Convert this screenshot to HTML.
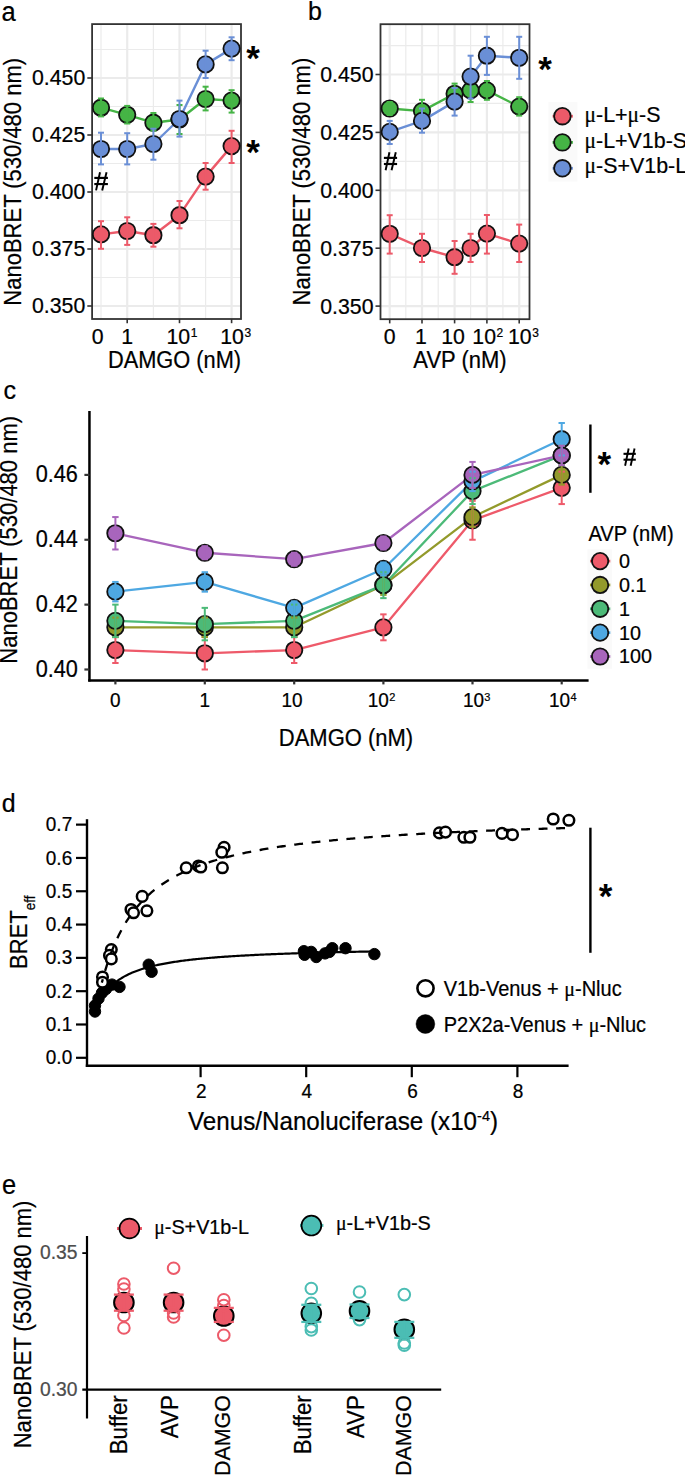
<!DOCTYPE html>
<html><head><meta charset="utf-8"><style>
html,body{margin:0;padding:0;background:#fff;overflow:hidden}
svg{display:block}
text{font-family:"Liberation Sans", sans-serif}
text.s,g.s text{stroke-width:0.4}
</style></head><body>
<svg width="685" height="1475" viewBox="0 0 685 1475">
<rect width="685" height="1475" fill="#fff"/>
<text transform="translate(1.4,21) scale(1,1.06)" font-size="25.5" text-anchor="start" fill="#000" stroke="#000" stroke-width="0.22" >a</text>
<g>
<line x1="92" y1="277.5" x2="241" y2="277.5" stroke="#ebebeb" stroke-width="1.2" />
<line x1="92" y1="220.5" x2="241" y2="220.5" stroke="#ebebeb" stroke-width="1.2" />
<line x1="92" y1="163.5" x2="241" y2="163.5" stroke="#ebebeb" stroke-width="1.2" />
<line x1="92" y1="106.5" x2="241" y2="106.5" stroke="#ebebeb" stroke-width="1.2" />
<line x1="92" y1="49.5" x2="241" y2="49.5" stroke="#ebebeb" stroke-width="1.2" />
<line x1="101" y1="24" x2="101" y2="319" stroke="#ebebeb" stroke-width="1.2" />
<line x1="153.4" y1="24" x2="153.4" y2="319" stroke="#ebebeb" stroke-width="1.2" />
<line x1="205.6" y1="24" x2="205.6" y2="319" stroke="#ebebeb" stroke-width="1.2" />
<line x1="92" y1="306.0" x2="241" y2="306.0" stroke="#ebebeb" stroke-width="2.2" />
<line x1="92" y1="249.0" x2="241" y2="249.0" stroke="#ebebeb" stroke-width="2.2" />
<line x1="92" y1="192.0" x2="241" y2="192.0" stroke="#ebebeb" stroke-width="2.2" />
<line x1="92" y1="135.0" x2="241" y2="135.0" stroke="#ebebeb" stroke-width="2.2" />
<line x1="92" y1="78.0" x2="241" y2="78.0" stroke="#ebebeb" stroke-width="2.2" />
<line x1="127.2" y1="24" x2="127.2" y2="319" stroke="#ebebeb" stroke-width="2.2" />
<line x1="179.5" y1="24" x2="179.5" y2="319" stroke="#ebebeb" stroke-width="2.2" />
<line x1="231.6" y1="24" x2="231.6" y2="319" stroke="#ebebeb" stroke-width="2.2" />
<rect x="92.1" y="24.1" width="148.9" height="294.9" fill="none" stroke="#333" stroke-width="1.8"/>
<line x1="87.3" y1="306.0" x2="92" y2="306.0" stroke="#333" stroke-width="1.6" />
<text transform="translate(85.3,313.4) scale(1,1.06)" font-size="21.3" text-anchor="end" fill="#000" stroke="#000" stroke-width="0.22" >0.350</text>
<line x1="87.3" y1="249.0" x2="92" y2="249.0" stroke="#333" stroke-width="1.6" />
<text transform="translate(85.3,256.4) scale(1,1.06)" font-size="21.3" text-anchor="end" fill="#000" stroke="#000" stroke-width="0.22" >0.375</text>
<line x1="87.3" y1="192.0" x2="92" y2="192.0" stroke="#333" stroke-width="1.6" />
<text transform="translate(85.3,199.4) scale(1,1.06)" font-size="21.3" text-anchor="end" fill="#000" stroke="#000" stroke-width="0.22" >0.400</text>
<line x1="87.3" y1="135.0" x2="92" y2="135.0" stroke="#333" stroke-width="1.6" />
<text transform="translate(85.3,142.4) scale(1,1.06)" font-size="21.3" text-anchor="end" fill="#000" stroke="#000" stroke-width="0.22" >0.425</text>
<line x1="87.3" y1="78.0" x2="92" y2="78.0" stroke="#333" stroke-width="1.6" />
<text transform="translate(85.3,85.4) scale(1,1.06)" font-size="21.3" text-anchor="end" fill="#000" stroke="#000" stroke-width="0.22" >0.450</text>
<line x1="127.2" y1="319" x2="127.2" y2="323.2" stroke="#333" stroke-width="1.6" />
<line x1="179.5" y1="319" x2="179.5" y2="323.2" stroke="#333" stroke-width="1.6" />
<line x1="231.6" y1="319" x2="231.6" y2="323.2" stroke="#333" stroke-width="1.6" />
<text transform="translate(97.6,344.4) scale(1,1.06)" font-size="21.3" text-anchor="middle" fill="#000" stroke="#000" stroke-width="0.22" >0</text>
<text transform="translate(127.2,344.4) scale(1,1.06)" font-size="21.3" text-anchor="middle" fill="#000" stroke="#000" stroke-width="0.22" >1</text>
<text transform="translate(182,344.4) scale(1,1.06)" font-size="21.3" text-anchor="middle" fill="#000" stroke="#000" stroke-width="0.22" >10<tspan font-size="12" dx="0.6" dy="-6.8">1</tspan></text>
<text transform="translate(235.6,344.4) scale(1,1.06)" font-size="21.3" text-anchor="middle" fill="#000" stroke="#000" stroke-width="0.22" >10<tspan font-size="12" dx="0.6" dy="-6.8">3</tspan></text>
<text transform="translate(174.5,368) scale(1,1.06)" font-size="21.8" text-anchor="middle" fill="#000" stroke="#000" stroke-width="0.22" >DAMGO (nM)</text>
<text transform="translate(21.1,181.8) rotate(-90) scale(1,1.06)" font-size="22" text-anchor="middle" stroke="#000" stroke-width="0.22">NanoBRET (530/480 nm)</text>
<polyline points="101,234.4 127.2,231 153.4,235.2 179.5,215.2 205.6,176.6 231.6,146.1" fill="none" stroke="#ec5a69" stroke-width="2.4" stroke-linejoin="round"/>
<polyline points="101,107.7 127.2,114.8 153.4,122.7 179.5,119.5 205.6,99 231.6,100.6" fill="none" stroke="#45b445" stroke-width="2.4" stroke-linejoin="round"/>
<polyline points="101,149 127.2,149 153.4,144 179.5,119 205.6,64.4 231.6,48.6" fill="none" stroke="#6a8fd6" stroke-width="2.4" stroke-linejoin="round"/>
<circle cx="101" cy="234.4" r="8.2" fill="#ec5a69" stroke="#111" stroke-width="1.8"/>
<circle cx="127.2" cy="231" r="8.2" fill="#ec5a69" stroke="#111" stroke-width="1.8"/>
<circle cx="153.4" cy="235.2" r="8.2" fill="#ec5a69" stroke="#111" stroke-width="1.8"/>
<circle cx="179.5" cy="215.2" r="8.2" fill="#ec5a69" stroke="#111" stroke-width="1.8"/>
<circle cx="205.6" cy="176.6" r="8.2" fill="#ec5a69" stroke="#111" stroke-width="1.8"/>
<circle cx="231.6" cy="146.1" r="8.2" fill="#ec5a69" stroke="#111" stroke-width="1.8"/>
<line x1="101" y1="221.2" x2="101" y2="248.8" stroke="#ec5a69" stroke-width="2.0" />
<line x1="98.0" y1="221.2" x2="104.0" y2="221.2" stroke="#ec5a69" stroke-width="2.0" />
<line x1="98.0" y1="248.8" x2="104.0" y2="248.8" stroke="#ec5a69" stroke-width="2.0" />
<line x1="127.2" y1="217.3" x2="127.2" y2="244.9" stroke="#ec5a69" stroke-width="2.0" />
<line x1="124.2" y1="217.3" x2="130.2" y2="217.3" stroke="#ec5a69" stroke-width="2.0" />
<line x1="124.2" y1="244.9" x2="130.2" y2="244.9" stroke="#ec5a69" stroke-width="2.0" />
<line x1="153.4" y1="223.9" x2="153.4" y2="246.7" stroke="#ec5a69" stroke-width="2.0" />
<line x1="150.4" y1="223.9" x2="156.4" y2="223.9" stroke="#ec5a69" stroke-width="2.0" />
<line x1="150.4" y1="246.7" x2="156.4" y2="246.7" stroke="#ec5a69" stroke-width="2.0" />
<line x1="179.5" y1="201" x2="179.5" y2="228.3" stroke="#ec5a69" stroke-width="2.0" />
<line x1="176.5" y1="201" x2="182.5" y2="201" stroke="#ec5a69" stroke-width="2.0" />
<line x1="176.5" y1="228.3" x2="182.5" y2="228.3" stroke="#ec5a69" stroke-width="2.0" />
<line x1="205.6" y1="163" x2="205.6" y2="189.7" stroke="#ec5a69" stroke-width="2.0" />
<line x1="202.6" y1="163" x2="208.6" y2="163" stroke="#ec5a69" stroke-width="2.0" />
<line x1="202.6" y1="189.7" x2="208.6" y2="189.7" stroke="#ec5a69" stroke-width="2.0" />
<line x1="231.6" y1="130.8" x2="231.6" y2="163" stroke="#ec5a69" stroke-width="2.0" />
<line x1="228.6" y1="130.8" x2="234.6" y2="130.8" stroke="#ec5a69" stroke-width="2.0" />
<line x1="228.6" y1="163" x2="234.6" y2="163" stroke="#ec5a69" stroke-width="2.0" />
<circle cx="101" cy="107.7" r="8.2" fill="#45b445" stroke="#111" stroke-width="1.8"/>
<circle cx="127.2" cy="114.8" r="8.2" fill="#45b445" stroke="#111" stroke-width="1.8"/>
<circle cx="153.4" cy="122.7" r="8.2" fill="#45b445" stroke="#111" stroke-width="1.8"/>
<circle cx="179.5" cy="119.5" r="8.2" fill="#45b445" stroke="#111" stroke-width="1.8"/>
<circle cx="205.6" cy="99" r="8.2" fill="#45b445" stroke="#111" stroke-width="1.8"/>
<circle cx="231.6" cy="100.6" r="8.2" fill="#45b445" stroke="#111" stroke-width="1.8"/>
<line x1="101" y1="98.5" x2="101" y2="116.4" stroke="#45b445" stroke-width="2.0" />
<line x1="98.0" y1="98.5" x2="104.0" y2="98.5" stroke="#45b445" stroke-width="2.0" />
<line x1="98.0" y1="116.4" x2="104.0" y2="116.4" stroke="#45b445" stroke-width="2.0" />
<line x1="127.2" y1="105.9" x2="127.2" y2="123.5" stroke="#45b445" stroke-width="2.0" />
<line x1="124.2" y1="105.9" x2="130.2" y2="105.9" stroke="#45b445" stroke-width="2.0" />
<line x1="124.2" y1="123.5" x2="130.2" y2="123.5" stroke="#45b445" stroke-width="2.0" />
<line x1="153.4" y1="113" x2="153.4" y2="130.6" stroke="#45b445" stroke-width="2.0" />
<line x1="150.4" y1="113" x2="156.4" y2="113" stroke="#45b445" stroke-width="2.0" />
<line x1="150.4" y1="130.6" x2="156.4" y2="130.6" stroke="#45b445" stroke-width="2.0" />
<line x1="179.5" y1="105" x2="179.5" y2="134" stroke="#45b445" stroke-width="2.0" />
<line x1="176.5" y1="105" x2="182.5" y2="105" stroke="#45b445" stroke-width="2.0" />
<line x1="176.5" y1="134" x2="182.5" y2="134" stroke="#45b445" stroke-width="2.0" />
<line x1="205.6" y1="86.7" x2="205.6" y2="110.4" stroke="#45b445" stroke-width="2.0" />
<line x1="202.6" y1="86.7" x2="208.6" y2="86.7" stroke="#45b445" stroke-width="2.0" />
<line x1="202.6" y1="110.4" x2="208.6" y2="110.4" stroke="#45b445" stroke-width="2.0" />
<line x1="231.6" y1="90.2" x2="231.6" y2="112.6" stroke="#45b445" stroke-width="2.0" />
<line x1="228.6" y1="90.2" x2="234.6" y2="90.2" stroke="#45b445" stroke-width="2.0" />
<line x1="228.6" y1="112.6" x2="234.6" y2="112.6" stroke="#45b445" stroke-width="2.0" />
<circle cx="101" cy="149" r="8.2" fill="#6a8fd6" stroke="#111" stroke-width="1.8"/>
<circle cx="127.2" cy="149" r="8.2" fill="#6a8fd6" stroke="#111" stroke-width="1.8"/>
<circle cx="153.4" cy="144" r="8.2" fill="#6a8fd6" stroke="#111" stroke-width="1.8"/>
<circle cx="179.5" cy="119" r="8.2" fill="#6a8fd6" stroke="#111" stroke-width="1.8"/>
<circle cx="205.6" cy="64.4" r="8.2" fill="#6a8fd6" stroke="#111" stroke-width="1.8"/>
<circle cx="231.6" cy="48.6" r="8.2" fill="#6a8fd6" stroke="#111" stroke-width="1.8"/>
<line x1="101" y1="132.7" x2="101" y2="164.4" stroke="#6a8fd6" stroke-width="2.0" />
<line x1="98.0" y1="132.7" x2="104.0" y2="132.7" stroke="#6a8fd6" stroke-width="2.0" />
<line x1="98.0" y1="164.4" x2="104.0" y2="164.4" stroke="#6a8fd6" stroke-width="2.0" />
<line x1="127.2" y1="133.2" x2="127.2" y2="164.4" stroke="#6a8fd6" stroke-width="2.0" />
<line x1="124.2" y1="133.2" x2="130.2" y2="133.2" stroke="#6a8fd6" stroke-width="2.0" />
<line x1="124.2" y1="164.4" x2="130.2" y2="164.4" stroke="#6a8fd6" stroke-width="2.0" />
<line x1="153.4" y1="128.7" x2="153.4" y2="159.7" stroke="#6a8fd6" stroke-width="2.0" />
<line x1="150.4" y1="128.7" x2="156.4" y2="128.7" stroke="#6a8fd6" stroke-width="2.0" />
<line x1="150.4" y1="159.7" x2="156.4" y2="159.7" stroke="#6a8fd6" stroke-width="2.0" />
<line x1="179.5" y1="100.6" x2="179.5" y2="136.6" stroke="#6a8fd6" stroke-width="2.0" />
<line x1="176.5" y1="100.6" x2="182.5" y2="100.6" stroke="#6a8fd6" stroke-width="2.0" />
<line x1="176.5" y1="136.6" x2="182.5" y2="136.6" stroke="#6a8fd6" stroke-width="2.0" />
<line x1="205.6" y1="50.7" x2="205.6" y2="78" stroke="#6a8fd6" stroke-width="2.0" />
<line x1="202.6" y1="50.7" x2="208.6" y2="50.7" stroke="#6a8fd6" stroke-width="2.0" />
<line x1="202.6" y1="78" x2="208.6" y2="78" stroke="#6a8fd6" stroke-width="2.0" />
<line x1="231.6" y1="37.3" x2="231.6" y2="60.2" stroke="#6a8fd6" stroke-width="2.0" />
<line x1="228.6" y1="37.3" x2="234.6" y2="37.3" stroke="#6a8fd6" stroke-width="2.0" />
<line x1="228.6" y1="60.2" x2="234.6" y2="60.2" stroke="#6a8fd6" stroke-width="2.0" />
<text x="253.1" y="70.3" font-size="35" font-weight="bold" text-anchor="middle" fill="#000">*</text>
<text x="253.1" y="163.9" font-size="35" font-weight="bold" text-anchor="middle" fill="#000">*</text>
<line x1="100.01" y1="172.3" x2="96.07" y2="190.4" stroke="#000" stroke-width="1.95" />
<line x1="106.54" y1="172.3" x2="102.19" y2="190.4" stroke="#000" stroke-width="1.95" />
<line x1="94.3" y1="177.91" x2="107.9" y2="177.91" stroke="#000" stroke-width="2.15" />
<line x1="94.3" y1="184.06" x2="107.9" y2="184.06" stroke="#000" stroke-width="2.15" />
</g>
<text transform="translate(308.1,20.3) scale(1,1.06)" font-size="25" text-anchor="start" fill="#000" stroke="#000" stroke-width="0.22" >b</text>
<line x1="380.5" y1="277.15" x2="529.5" y2="277.15" stroke="#ebebeb" stroke-width="1.2" />
<line x1="380.5" y1="219.25" x2="529.5" y2="219.25" stroke="#ebebeb" stroke-width="1.2" />
<line x1="380.5" y1="161.35" x2="529.5" y2="161.35" stroke="#ebebeb" stroke-width="1.2" />
<line x1="380.5" y1="103.45" x2="529.5" y2="103.45" stroke="#ebebeb" stroke-width="1.2" />
<line x1="380.5" y1="45.55" x2="529.5" y2="45.55" stroke="#ebebeb" stroke-width="1.2" />
<line x1="405.8" y1="24.2" x2="405.8" y2="319.2" stroke="#ebebeb" stroke-width="1.2" />
<line x1="438.2" y1="24.2" x2="438.2" y2="319.2" stroke="#ebebeb" stroke-width="1.2" />
<line x1="470.6" y1="24.2" x2="470.6" y2="319.2" stroke="#ebebeb" stroke-width="1.2" />
<line x1="502.9" y1="24.2" x2="502.9" y2="319.2" stroke="#ebebeb" stroke-width="1.2" />
<line x1="380.5" y1="306.1" x2="529.5" y2="306.1" stroke="#ebebeb" stroke-width="2.2" />
<line x1="380.5" y1="248.2" x2="529.5" y2="248.2" stroke="#ebebeb" stroke-width="2.2" />
<line x1="380.5" y1="190.3" x2="529.5" y2="190.3" stroke="#ebebeb" stroke-width="2.2" />
<line x1="380.5" y1="132.4" x2="529.5" y2="132.4" stroke="#ebebeb" stroke-width="2.2" />
<line x1="380.5" y1="74.5" x2="529.5" y2="74.5" stroke="#ebebeb" stroke-width="2.2" />
<line x1="389.7" y1="24.2" x2="389.7" y2="319.2" stroke="#ebebeb" stroke-width="2.2" />
<line x1="422" y1="24.2" x2="422" y2="319.2" stroke="#ebebeb" stroke-width="2.2" />
<line x1="454.6" y1="24.2" x2="454.6" y2="319.2" stroke="#ebebeb" stroke-width="2.2" />
<line x1="486.9" y1="24.2" x2="486.9" y2="319.2" stroke="#ebebeb" stroke-width="2.2" />
<line x1="519.2" y1="24.2" x2="519.2" y2="319.2" stroke="#ebebeb" stroke-width="2.2" />
<rect x="380.5" y="24.2" width="149" height="295" fill="none" stroke="#333" stroke-width="1.8"/>
<line x1="375.5" y1="306.1" x2="380.5" y2="306.1" stroke="#333" stroke-width="1.6" />
<text transform="translate(373.5,313.5) scale(1,1.06)" font-size="21.3" text-anchor="end" fill="#000" stroke="#000" stroke-width="0.22" >0.350</text>
<line x1="375.5" y1="248.2" x2="380.5" y2="248.2" stroke="#333" stroke-width="1.6" />
<text transform="translate(373.5,255.6) scale(1,1.06)" font-size="21.3" text-anchor="end" fill="#000" stroke="#000" stroke-width="0.22" >0.375</text>
<line x1="375.5" y1="190.3" x2="380.5" y2="190.3" stroke="#333" stroke-width="1.6" />
<text transform="translate(373.5,197.7) scale(1,1.06)" font-size="21.3" text-anchor="end" fill="#000" stroke="#000" stroke-width="0.22" >0.400</text>
<line x1="375.5" y1="132.4" x2="380.5" y2="132.4" stroke="#333" stroke-width="1.6" />
<text transform="translate(373.5,139.8) scale(1,1.06)" font-size="21.3" text-anchor="end" fill="#000" stroke="#000" stroke-width="0.22" >0.425</text>
<line x1="375.5" y1="74.5" x2="380.5" y2="74.5" stroke="#333" stroke-width="1.6" />
<text transform="translate(373.5,81.9) scale(1,1.06)" font-size="21.3" text-anchor="end" fill="#000" stroke="#000" stroke-width="0.22" >0.450</text>
<line x1="389.7" y1="319.2" x2="389.7" y2="323.4" stroke="#333" stroke-width="1.6" />
<line x1="422" y1="319.2" x2="422" y2="323.4" stroke="#333" stroke-width="1.6" />
<line x1="454.6" y1="319.2" x2="454.6" y2="323.4" stroke="#333" stroke-width="1.6" />
<line x1="486.9" y1="319.2" x2="486.9" y2="323.4" stroke="#333" stroke-width="1.6" />
<line x1="519.2" y1="319.2" x2="519.2" y2="323.4" stroke="#333" stroke-width="1.6" />
<text transform="translate(389.7,344.4) scale(1,1.06)" font-size="21.3" text-anchor="middle" fill="#000" stroke="#000" stroke-width="0.22" >0</text>
<text transform="translate(420.8,344.4) scale(1,1.06)" font-size="21.3" text-anchor="middle" fill="#000" stroke="#000" stroke-width="0.22" >1</text>
<text transform="translate(453,344.4) scale(1,1.06)" font-size="21.3" text-anchor="middle" fill="#000" stroke="#000" stroke-width="0.22" >10</text>
<text transform="translate(487.8,344.4) scale(1,1.06)" font-size="21.3" text-anchor="middle" fill="#000" stroke="#000" stroke-width="0.22" >10<tspan font-size="12" dx="0.6" dy="-6.8">2</tspan></text>
<text transform="translate(523.4,344.4) scale(1,1.06)" font-size="21.3" text-anchor="middle" fill="#000" stroke="#000" stroke-width="0.22" >10<tspan font-size="12" dx="0.6" dy="-6.8">3</tspan></text>
<text transform="translate(460,368) scale(1,1.06)" font-size="22" text-anchor="middle" fill="#000" stroke="#000" stroke-width="0.22" >AVP (nM)</text>
<text transform="translate(309.6,181.6) rotate(-90) scale(1,1.06)" font-size="22" text-anchor="middle" stroke="#000" stroke-width="0.22">NanoBRET (530/480 nm)</text>
<polyline points="389.7,233.8 422,248 454.6,257.2 470.6,248 486.9,233.6 519.2,243.6" fill="none" stroke="#ec5a69" stroke-width="2.4" stroke-linejoin="round"/>
<polyline points="389.7,108.5 422,111.1 454.6,93.8 470.6,90.4 486.9,90.4 519.2,106.6" fill="none" stroke="#45b445" stroke-width="2.4" stroke-linejoin="round"/>
<polyline points="389.7,131.9 422,120.9 454.6,101.6 470.6,76.6 486.9,55.7 519.2,57.8" fill="none" stroke="#6a8fd6" stroke-width="2.4" stroke-linejoin="round"/>
<circle cx="389.7" cy="233.8" r="8.2" fill="#ec5a69" stroke="#111" stroke-width="1.8"/>
<circle cx="422" cy="248" r="8.2" fill="#ec5a69" stroke="#111" stroke-width="1.8"/>
<circle cx="454.6" cy="257.2" r="8.2" fill="#ec5a69" stroke="#111" stroke-width="1.8"/>
<circle cx="470.6" cy="248" r="8.2" fill="#ec5a69" stroke="#111" stroke-width="1.8"/>
<circle cx="486.9" cy="233.6" r="8.2" fill="#ec5a69" stroke="#111" stroke-width="1.8"/>
<circle cx="519.2" cy="243.6" r="8.2" fill="#ec5a69" stroke="#111" stroke-width="1.8"/>
<line x1="389.7" y1="215.2" x2="389.7" y2="253.6" stroke="#ec5a69" stroke-width="2.0" />
<line x1="386.7" y1="215.2" x2="392.7" y2="215.2" stroke="#ec5a69" stroke-width="2.0" />
<line x1="386.7" y1="253.6" x2="392.7" y2="253.6" stroke="#ec5a69" stroke-width="2.0" />
<line x1="422" y1="233.8" x2="422" y2="262" stroke="#ec5a69" stroke-width="2.0" />
<line x1="419.0" y1="233.8" x2="425.0" y2="233.8" stroke="#ec5a69" stroke-width="2.0" />
<line x1="419.0" y1="262" x2="425.0" y2="262" stroke="#ec5a69" stroke-width="2.0" />
<line x1="454.6" y1="241" x2="454.6" y2="273.8" stroke="#ec5a69" stroke-width="2.0" />
<line x1="451.6" y1="241" x2="457.6" y2="241" stroke="#ec5a69" stroke-width="2.0" />
<line x1="451.6" y1="273.8" x2="457.6" y2="273.8" stroke="#ec5a69" stroke-width="2.0" />
<line x1="470.6" y1="233.8" x2="470.6" y2="262" stroke="#ec5a69" stroke-width="2.0" />
<line x1="467.6" y1="233.8" x2="473.6" y2="233.8" stroke="#ec5a69" stroke-width="2.0" />
<line x1="467.6" y1="262" x2="473.6" y2="262" stroke="#ec5a69" stroke-width="2.0" />
<line x1="486.9" y1="215" x2="486.9" y2="253.6" stroke="#ec5a69" stroke-width="2.0" />
<line x1="483.9" y1="215" x2="489.9" y2="215" stroke="#ec5a69" stroke-width="2.0" />
<line x1="483.9" y1="253.6" x2="489.9" y2="253.6" stroke="#ec5a69" stroke-width="2.0" />
<line x1="519.2" y1="224.6" x2="519.2" y2="262" stroke="#ec5a69" stroke-width="2.0" />
<line x1="516.2" y1="224.6" x2="522.2" y2="224.6" stroke="#ec5a69" stroke-width="2.0" />
<line x1="516.2" y1="262" x2="522.2" y2="262" stroke="#ec5a69" stroke-width="2.0" />
<circle cx="389.7" cy="108.5" r="8.2" fill="#45b445" stroke="#111" stroke-width="1.8"/>
<circle cx="422" cy="111.1" r="8.2" fill="#45b445" stroke="#111" stroke-width="1.8"/>
<circle cx="454.6" cy="93.8" r="8.2" fill="#45b445" stroke="#111" stroke-width="1.8"/>
<circle cx="470.6" cy="90.4" r="8.2" fill="#45b445" stroke="#111" stroke-width="1.8"/>
<circle cx="486.9" cy="90.4" r="8.2" fill="#45b445" stroke="#111" stroke-width="1.8"/>
<circle cx="519.2" cy="106.6" r="8.2" fill="#45b445" stroke="#111" stroke-width="1.8"/>
<line x1="389.7" y1="102" x2="389.7" y2="115" stroke="#45b445" stroke-width="2.0" />
<line x1="386.7" y1="102" x2="392.7" y2="102" stroke="#45b445" stroke-width="2.0" />
<line x1="386.7" y1="115" x2="392.7" y2="115" stroke="#45b445" stroke-width="2.0" />
<line x1="422" y1="99.8" x2="422" y2="122" stroke="#45b445" stroke-width="2.0" />
<line x1="419.0" y1="99.8" x2="425.0" y2="99.8" stroke="#45b445" stroke-width="2.0" />
<line x1="419.0" y1="122" x2="425.0" y2="122" stroke="#45b445" stroke-width="2.0" />
<line x1="454.6" y1="83.6" x2="454.6" y2="104" stroke="#45b445" stroke-width="2.0" />
<line x1="451.6" y1="83.6" x2="457.6" y2="83.6" stroke="#45b445" stroke-width="2.0" />
<line x1="451.6" y1="104" x2="457.6" y2="104" stroke="#45b445" stroke-width="2.0" />
<line x1="470.6" y1="80" x2="470.6" y2="102" stroke="#45b445" stroke-width="2.0" />
<line x1="467.6" y1="80" x2="473.6" y2="80" stroke="#45b445" stroke-width="2.0" />
<line x1="467.6" y1="102" x2="473.6" y2="102" stroke="#45b445" stroke-width="2.0" />
<line x1="486.9" y1="81" x2="486.9" y2="99.8" stroke="#45b445" stroke-width="2.0" />
<line x1="483.9" y1="81" x2="489.9" y2="81" stroke="#45b445" stroke-width="2.0" />
<line x1="483.9" y1="99.8" x2="489.9" y2="99.8" stroke="#45b445" stroke-width="2.0" />
<line x1="519.2" y1="97.2" x2="519.2" y2="115.6" stroke="#45b445" stroke-width="2.0" />
<line x1="516.2" y1="97.2" x2="522.2" y2="97.2" stroke="#45b445" stroke-width="2.0" />
<line x1="516.2" y1="115.6" x2="522.2" y2="115.6" stroke="#45b445" stroke-width="2.0" />
<circle cx="389.7" cy="131.9" r="8.2" fill="#6a8fd6" stroke="#111" stroke-width="1.8"/>
<circle cx="422" cy="120.9" r="8.2" fill="#6a8fd6" stroke="#111" stroke-width="1.8"/>
<circle cx="454.6" cy="101.6" r="8.2" fill="#6a8fd6" stroke="#111" stroke-width="1.8"/>
<circle cx="470.6" cy="76.6" r="8.2" fill="#6a8fd6" stroke="#111" stroke-width="1.8"/>
<circle cx="486.9" cy="55.7" r="8.2" fill="#6a8fd6" stroke="#111" stroke-width="1.8"/>
<circle cx="519.2" cy="57.8" r="8.2" fill="#6a8fd6" stroke="#111" stroke-width="1.8"/>
<line x1="389.7" y1="120.9" x2="389.7" y2="144" stroke="#6a8fd6" stroke-width="2.0" />
<line x1="386.7" y1="120.9" x2="392.7" y2="120.9" stroke="#6a8fd6" stroke-width="2.0" />
<line x1="386.7" y1="144" x2="392.7" y2="144" stroke="#6a8fd6" stroke-width="2.0" />
<line x1="422" y1="108.5" x2="422" y2="132.7" stroke="#6a8fd6" stroke-width="2.0" />
<line x1="419.0" y1="108.5" x2="425.0" y2="108.5" stroke="#6a8fd6" stroke-width="2.0" />
<line x1="419.0" y1="132.7" x2="425.0" y2="132.7" stroke="#6a8fd6" stroke-width="2.0" />
<line x1="454.6" y1="88" x2="454.6" y2="115.6" stroke="#6a8fd6" stroke-width="2.0" />
<line x1="451.6" y1="88" x2="457.6" y2="88" stroke="#6a8fd6" stroke-width="2.0" />
<line x1="451.6" y1="115.6" x2="457.6" y2="115.6" stroke="#6a8fd6" stroke-width="2.0" />
<line x1="470.6" y1="55.7" x2="470.6" y2="98.5" stroke="#6a8fd6" stroke-width="2.0" />
<line x1="467.6" y1="55.7" x2="473.6" y2="55.7" stroke="#6a8fd6" stroke-width="2.0" />
<line x1="467.6" y1="98.5" x2="473.6" y2="98.5" stroke="#6a8fd6" stroke-width="2.0" />
<line x1="486.9" y1="36.8" x2="486.9" y2="74.9" stroke="#6a8fd6" stroke-width="2.0" />
<line x1="483.9" y1="36.8" x2="489.9" y2="36.8" stroke="#6a8fd6" stroke-width="2.0" />
<line x1="483.9" y1="74.9" x2="489.9" y2="74.9" stroke="#6a8fd6" stroke-width="2.0" />
<line x1="519.2" y1="36.8" x2="519.2" y2="78.8" stroke="#6a8fd6" stroke-width="2.0" />
<line x1="516.2" y1="36.8" x2="522.2" y2="36.8" stroke="#6a8fd6" stroke-width="2.0" />
<line x1="516.2" y1="78.8" x2="522.2" y2="78.8" stroke="#6a8fd6" stroke-width="2.0" />
<text x="545" y="80.69999999999999" font-size="35" font-weight="bold" text-anchor="middle" fill="#000">*</text>
<line x1="389.44" y1="152.3" x2="385.62" y2="170.3" stroke="#000" stroke-width="1.95" />
<line x1="395.78" y1="152.3" x2="391.56" y2="170.3" stroke="#000" stroke-width="1.95" />
<line x1="383.9" y1="157.88" x2="397.1" y2="157.88" stroke="#000" stroke-width="2.15" />
<line x1="383.9" y1="164.0" x2="397.1" y2="164.0" stroke="#000" stroke-width="2.15" />
<rect x="548.4" y="102" width="29" height="79.6" fill="#fafafa"/>
<line x1="552.6" y1="116.2" x2="572.9" y2="116.2" stroke="#ec5a69" stroke-width="2.8" />
<circle cx="562.4" cy="116.2" r="8.3" fill="#ec5a69" stroke="#111" stroke-width="1.8"/>

<line x1="552.6" y1="142.4" x2="572.9" y2="142.4" stroke="#45b445" stroke-width="2.8" />
<circle cx="562.4" cy="142.4" r="8.3" fill="#45b445" stroke="#111" stroke-width="1.8"/>

<line x1="552.6" y1="168.3" x2="572.9" y2="168.3" stroke="#6a8fd6" stroke-width="2.8" />
<circle cx="562.4" cy="168.3" r="8.3" fill="#6a8fd6" stroke="#111" stroke-width="1.8"/>

<text transform="translate(584.6,121.6) scale(1,1.06)" font-size="21.4" text-anchor="start" fill="#000" stroke="#000" stroke-width="0.22" ><tspan font-family="Liberation Serif">μ</tspan>-L+<tspan font-family="Liberation Serif">μ</tspan>-S</text>
<text transform="translate(584.6,147.7) scale(1,1.06)" font-size="21.4" text-anchor="start" fill="#000" stroke="#000" stroke-width="0.22" ><tspan font-family="Liberation Serif">μ</tspan>-L+V1b-S</text>
<text transform="translate(584.6,173.4) scale(1,1.06)" font-size="21.4" text-anchor="start" fill="#000" stroke="#000" stroke-width="0.22" ><tspan font-family="Liberation Serif">μ</tspan>-S+V1b-L</text>
<text transform="translate(3.5,399.2) scale(1,1.06)" font-size="25" text-anchor="start" fill="#000" stroke="#000" stroke-width="0.22" >c</text>
<line x1="89.45" y1="410.9" x2="89.45" y2="681.6" stroke="#000" stroke-width="2.5" />
<line x1="88.2" y1="680.4" x2="588.6" y2="680.4" stroke="#000" stroke-width="2.5" />
<line x1="84.4" y1="669.5" x2="89.45" y2="669.5" stroke="#333" stroke-width="2.2" />
<text transform="translate(77.9,676.5) scale(1,1.06)" font-size="21.7" text-anchor="end" fill="#000" stroke="#000" stroke-width="0.22" >0.40</text>
<line x1="84.4" y1="604.63" x2="89.45" y2="604.63" stroke="#333" stroke-width="2.2" />
<text transform="translate(77.9,611.63) scale(1,1.06)" font-size="21.7" text-anchor="end" fill="#000" stroke="#000" stroke-width="0.22" >0.42</text>
<line x1="84.4" y1="539.76" x2="89.45" y2="539.76" stroke="#333" stroke-width="2.2" />
<text transform="translate(77.9,546.76) scale(1,1.06)" font-size="21.7" text-anchor="end" fill="#000" stroke="#000" stroke-width="0.22" >0.44</text>
<line x1="84.4" y1="474.89" x2="89.45" y2="474.89" stroke="#333" stroke-width="2.2" />
<text transform="translate(77.9,481.89) scale(1,1.06)" font-size="21.7" text-anchor="end" fill="#000" stroke="#000" stroke-width="0.22" >0.46</text>
<line x1="115.4" y1="680.4" x2="115.4" y2="684.4" stroke="#333" stroke-width="2.2" />
<line x1="204.8" y1="680.4" x2="204.8" y2="684.4" stroke="#333" stroke-width="2.2" />
<line x1="294.2" y1="680.4" x2="294.2" y2="684.4" stroke="#333" stroke-width="2.2" />
<line x1="383.4" y1="680.4" x2="383.4" y2="684.4" stroke="#333" stroke-width="2.2" />
<line x1="472.5" y1="680.4" x2="472.5" y2="684.4" stroke="#333" stroke-width="2.2" />
<line x1="561.7" y1="680.4" x2="561.7" y2="684.4" stroke="#333" stroke-width="2.2" />
<text transform="translate(115.4,707) scale(1,1.06)" font-size="19" text-anchor="middle" fill="#000" stroke="#000" stroke-width="0.22" >0</text>
<text transform="translate(204.8,707) scale(1,1.06)" font-size="19" text-anchor="middle" fill="#000" stroke="#000" stroke-width="0.22" >1</text>
<text transform="translate(292,707) scale(1,1.06)" font-size="19" text-anchor="middle" fill="#000" stroke="#000" stroke-width="0.22" >10</text>
<text transform="translate(381.5,707) scale(1,1.06)" font-size="19" text-anchor="middle" fill="#000" stroke="#000" stroke-width="0.22" >10<tspan font-size="11" dx="0.3" dy="-6">2</tspan></text>
<text transform="translate(476.7,707) scale(1,1.06)" font-size="19" text-anchor="middle" fill="#000" stroke="#000" stroke-width="0.22" >10<tspan font-size="11" dx="0.3" dy="-6">3</tspan></text>
<text transform="translate(562.8,707) scale(1,1.06)" font-size="19" text-anchor="middle" fill="#000" stroke="#000" stroke-width="0.22" >10<tspan font-size="11" dx="0.3" dy="-6">4</tspan></text>
<text transform="translate(346,746) scale(1,1.06)" font-size="22" text-anchor="middle" fill="#000" stroke="#000" stroke-width="0.22" >DAMGO (nM)</text>
<text transform="translate(16.6,539.8) rotate(-90) scale(1,1.06)" font-size="22" text-anchor="middle" stroke="#000" stroke-width="0.22">NanoBRET (530/480 nm)</text>
<polyline points="115.4,650.04 204.8,653.28 294.2,650.04 383.4,627.33 472.5,520.3 561.7,487.86" fill="none" stroke="#ee5a6a" stroke-width="2.3" stroke-linejoin="round"/>
<polyline points="115.4,627.33 204.8,627.33 294.2,627.33 383.4,585.17 472.5,517.06 561.7,474.89" fill="none" stroke="#939a2b" stroke-width="2.3" stroke-linejoin="round"/>
<polyline points="115.4,620.85 204.8,624.09 294.2,620.85 383.4,585.17 472.5,491.11 561.7,455.43" fill="none" stroke="#4cba78" stroke-width="2.3" stroke-linejoin="round"/>
<polyline points="115.4,591.66 204.8,581.93 294.2,607.87 383.4,568.95 472.5,481.38 561.7,439.21" fill="none" stroke="#4ea8e2" stroke-width="2.3" stroke-linejoin="round"/>
<polyline points="115.4,533.27 204.8,552.73 294.2,559.22 383.4,543.0 472.5,474.89 561.7,455.43" fill="none" stroke="#a865bc" stroke-width="2.3" stroke-linejoin="round"/>
<circle cx="115.4" cy="650.04" r="8.2" fill="#ee5a6a" stroke="#111" stroke-width="1.8"/>
<circle cx="204.8" cy="653.28" r="8.2" fill="#ee5a6a" stroke="#111" stroke-width="1.8"/>
<circle cx="294.2" cy="650.04" r="8.2" fill="#ee5a6a" stroke="#111" stroke-width="1.8"/>
<circle cx="383.4" cy="627.33" r="8.2" fill="#ee5a6a" stroke="#111" stroke-width="1.8"/>
<circle cx="472.5" cy="520.3" r="8.2" fill="#ee5a6a" stroke="#111" stroke-width="1.8"/>
<circle cx="561.7" cy="487.86" r="8.2" fill="#ee5a6a" stroke="#111" stroke-width="1.8"/>
<circle cx="115.4" cy="627.33" r="8.2" fill="#939a2b" stroke="#111" stroke-width="1.8"/>
<circle cx="204.8" cy="627.33" r="8.2" fill="#939a2b" stroke="#111" stroke-width="1.8"/>
<circle cx="294.2" cy="627.33" r="8.2" fill="#939a2b" stroke="#111" stroke-width="1.8"/>
<circle cx="383.4" cy="585.17" r="8.2" fill="#939a2b" stroke="#111" stroke-width="1.8"/>
<circle cx="472.5" cy="517.06" r="8.2" fill="#939a2b" stroke="#111" stroke-width="1.8"/>
<circle cx="561.7" cy="474.89" r="8.2" fill="#939a2b" stroke="#111" stroke-width="1.8"/>
<circle cx="115.4" cy="620.85" r="8.2" fill="#4cba78" stroke="#111" stroke-width="1.8"/>
<circle cx="204.8" cy="624.09" r="8.2" fill="#4cba78" stroke="#111" stroke-width="1.8"/>
<circle cx="294.2" cy="620.85" r="8.2" fill="#4cba78" stroke="#111" stroke-width="1.8"/>
<circle cx="383.4" cy="585.17" r="8.2" fill="#4cba78" stroke="#111" stroke-width="1.8"/>
<circle cx="472.5" cy="491.11" r="8.2" fill="#4cba78" stroke="#111" stroke-width="1.8"/>
<circle cx="561.7" cy="455.43" r="8.2" fill="#4cba78" stroke="#111" stroke-width="1.8"/>
<circle cx="115.4" cy="591.66" r="8.2" fill="#4ea8e2" stroke="#111" stroke-width="1.8"/>
<circle cx="204.8" cy="581.93" r="8.2" fill="#4ea8e2" stroke="#111" stroke-width="1.8"/>
<circle cx="294.2" cy="607.87" r="8.2" fill="#4ea8e2" stroke="#111" stroke-width="1.8"/>
<circle cx="383.4" cy="568.95" r="8.2" fill="#4ea8e2" stroke="#111" stroke-width="1.8"/>
<circle cx="472.5" cy="481.38" r="8.2" fill="#4ea8e2" stroke="#111" stroke-width="1.8"/>
<circle cx="561.7" cy="439.21" r="8.2" fill="#4ea8e2" stroke="#111" stroke-width="1.8"/>
<circle cx="115.4" cy="533.27" r="8.2" fill="#a865bc" stroke="#111" stroke-width="1.8"/>
<circle cx="204.8" cy="552.73" r="8.2" fill="#a865bc" stroke="#111" stroke-width="1.8"/>
<circle cx="294.2" cy="559.22" r="8.2" fill="#a865bc" stroke="#111" stroke-width="1.8"/>
<circle cx="383.4" cy="543.0" r="8.2" fill="#a865bc" stroke="#111" stroke-width="1.8"/>
<circle cx="472.5" cy="474.89" r="8.2" fill="#a865bc" stroke="#111" stroke-width="1.8"/>
<circle cx="561.7" cy="455.43" r="8.2" fill="#a865bc" stroke="#111" stroke-width="1.8"/>
<line x1="115.4" y1="637.06" x2="115.4" y2="663.01" stroke="#ee5a6a" stroke-width="2.0" />
<line x1="112.2" y1="637.06" x2="118.6" y2="637.06" stroke="#ee5a6a" stroke-width="2.0" />
<line x1="112.2" y1="663.01" x2="118.6" y2="663.01" stroke="#ee5a6a" stroke-width="2.0" />
<line x1="204.8" y1="637.06" x2="204.8" y2="669.5" stroke="#ee5a6a" stroke-width="2.0" />
<line x1="201.6" y1="637.06" x2="208.0" y2="637.06" stroke="#ee5a6a" stroke-width="2.0" />
<line x1="201.6" y1="669.5" x2="208.0" y2="669.5" stroke="#ee5a6a" stroke-width="2.0" />
<line x1="294.2" y1="637.06" x2="294.2" y2="663.01" stroke="#ee5a6a" stroke-width="2.0" />
<line x1="291.0" y1="637.06" x2="297.4" y2="637.06" stroke="#ee5a6a" stroke-width="2.0" />
<line x1="291.0" y1="663.01" x2="297.4" y2="663.01" stroke="#ee5a6a" stroke-width="2.0" />
<line x1="383.4" y1="614.36" x2="383.4" y2="640.31" stroke="#ee5a6a" stroke-width="2.0" />
<line x1="380.2" y1="614.36" x2="386.6" y2="614.36" stroke="#ee5a6a" stroke-width="2.0" />
<line x1="380.2" y1="640.31" x2="386.6" y2="640.31" stroke="#ee5a6a" stroke-width="2.0" />
<line x1="472.5" y1="500.84" x2="472.5" y2="539.76" stroke="#ee5a6a" stroke-width="2.0" />
<line x1="469.3" y1="500.84" x2="475.7" y2="500.84" stroke="#ee5a6a" stroke-width="2.0" />
<line x1="469.3" y1="539.76" x2="475.7" y2="539.76" stroke="#ee5a6a" stroke-width="2.0" />
<line x1="561.7" y1="471.65" x2="561.7" y2="504.08" stroke="#ee5a6a" stroke-width="2.0" />
<line x1="558.5" y1="471.65" x2="564.9" y2="471.65" stroke="#ee5a6a" stroke-width="2.0" />
<line x1="558.5" y1="504.08" x2="564.9" y2="504.08" stroke="#ee5a6a" stroke-width="2.0" />
<line x1="115.4" y1="617.6" x2="115.4" y2="637.07" stroke="#939a2b" stroke-width="2.0" />
<line x1="112.2" y1="617.6" x2="118.6" y2="617.6" stroke="#939a2b" stroke-width="2.0" />
<line x1="112.2" y1="637.07" x2="118.6" y2="637.07" stroke="#939a2b" stroke-width="2.0" />
<line x1="204.8" y1="617.6" x2="204.8" y2="637.07" stroke="#939a2b" stroke-width="2.0" />
<line x1="201.6" y1="617.6" x2="208.0" y2="617.6" stroke="#939a2b" stroke-width="2.0" />
<line x1="201.6" y1="637.07" x2="208.0" y2="637.07" stroke="#939a2b" stroke-width="2.0" />
<line x1="294.2" y1="617.6" x2="294.2" y2="637.07" stroke="#939a2b" stroke-width="2.0" />
<line x1="291.0" y1="617.6" x2="297.4" y2="617.6" stroke="#939a2b" stroke-width="2.0" />
<line x1="291.0" y1="637.07" x2="297.4" y2="637.07" stroke="#939a2b" stroke-width="2.0" />
<line x1="383.4" y1="575.44" x2="383.4" y2="594.9" stroke="#939a2b" stroke-width="2.0" />
<line x1="380.2" y1="575.44" x2="386.6" y2="575.44" stroke="#939a2b" stroke-width="2.0" />
<line x1="380.2" y1="594.9" x2="386.6" y2="594.9" stroke="#939a2b" stroke-width="2.0" />
<line x1="472.5" y1="507.33" x2="472.5" y2="526.79" stroke="#939a2b" stroke-width="2.0" />
<line x1="469.3" y1="507.33" x2="475.7" y2="507.33" stroke="#939a2b" stroke-width="2.0" />
<line x1="469.3" y1="526.79" x2="475.7" y2="526.79" stroke="#939a2b" stroke-width="2.0" />
<line x1="561.7" y1="465.16" x2="561.7" y2="484.62" stroke="#939a2b" stroke-width="2.0" />
<line x1="558.5" y1="465.16" x2="564.9" y2="465.16" stroke="#939a2b" stroke-width="2.0" />
<line x1="558.5" y1="484.62" x2="564.9" y2="484.62" stroke="#939a2b" stroke-width="2.0" />
<line x1="115.4" y1="604.63" x2="115.4" y2="637.07" stroke="#4cba78" stroke-width="2.0" />
<line x1="112.2" y1="604.63" x2="118.6" y2="604.63" stroke="#4cba78" stroke-width="2.0" />
<line x1="112.2" y1="637.07" x2="118.6" y2="637.07" stroke="#4cba78" stroke-width="2.0" />
<line x1="204.8" y1="607.87" x2="204.8" y2="640.31" stroke="#4cba78" stroke-width="2.0" />
<line x1="201.6" y1="607.87" x2="208.0" y2="607.87" stroke="#4cba78" stroke-width="2.0" />
<line x1="201.6" y1="640.31" x2="208.0" y2="640.31" stroke="#4cba78" stroke-width="2.0" />
<line x1="294.2" y1="604.63" x2="294.2" y2="637.07" stroke="#4cba78" stroke-width="2.0" />
<line x1="291.0" y1="604.63" x2="297.4" y2="604.63" stroke="#4cba78" stroke-width="2.0" />
<line x1="291.0" y1="637.07" x2="297.4" y2="637.07" stroke="#4cba78" stroke-width="2.0" />
<line x1="383.4" y1="572.2" x2="383.4" y2="598.14" stroke="#4cba78" stroke-width="2.0" />
<line x1="380.2" y1="572.2" x2="386.6" y2="572.2" stroke="#4cba78" stroke-width="2.0" />
<line x1="380.2" y1="598.14" x2="386.6" y2="598.14" stroke="#4cba78" stroke-width="2.0" />
<line x1="472.5" y1="478.13" x2="472.5" y2="504.08" stroke="#4cba78" stroke-width="2.0" />
<line x1="469.3" y1="478.13" x2="475.7" y2="478.13" stroke="#4cba78" stroke-width="2.0" />
<line x1="469.3" y1="504.08" x2="475.7" y2="504.08" stroke="#4cba78" stroke-width="2.0" />
<line x1="561.7" y1="445.7" x2="561.7" y2="465.16" stroke="#4cba78" stroke-width="2.0" />
<line x1="558.5" y1="445.7" x2="564.9" y2="445.7" stroke="#4cba78" stroke-width="2.0" />
<line x1="558.5" y1="465.16" x2="564.9" y2="465.16" stroke="#4cba78" stroke-width="2.0" />
<line x1="115.4" y1="581.93" x2="115.4" y2="601.39" stroke="#4ea8e2" stroke-width="2.0" />
<line x1="112.2" y1="581.93" x2="118.6" y2="581.93" stroke="#4ea8e2" stroke-width="2.0" />
<line x1="112.2" y1="601.39" x2="118.6" y2="601.39" stroke="#4ea8e2" stroke-width="2.0" />
<line x1="204.8" y1="572.2" x2="204.8" y2="591.66" stroke="#4ea8e2" stroke-width="2.0" />
<line x1="201.6" y1="572.2" x2="208.0" y2="572.2" stroke="#4ea8e2" stroke-width="2.0" />
<line x1="201.6" y1="591.66" x2="208.0" y2="591.66" stroke="#4ea8e2" stroke-width="2.0" />
<line x1="294.2" y1="601.39" x2="294.2" y2="614.36" stroke="#4ea8e2" stroke-width="2.0" />
<line x1="291.0" y1="601.39" x2="297.4" y2="601.39" stroke="#4ea8e2" stroke-width="2.0" />
<line x1="291.0" y1="614.36" x2="297.4" y2="614.36" stroke="#4ea8e2" stroke-width="2.0" />
<line x1="383.4" y1="562.46" x2="383.4" y2="575.44" stroke="#4ea8e2" stroke-width="2.0" />
<line x1="380.2" y1="562.46" x2="386.6" y2="562.46" stroke="#4ea8e2" stroke-width="2.0" />
<line x1="380.2" y1="575.44" x2="386.6" y2="575.44" stroke="#4ea8e2" stroke-width="2.0" />
<line x1="472.5" y1="471.65" x2="472.5" y2="491.11" stroke="#4ea8e2" stroke-width="2.0" />
<line x1="469.3" y1="471.65" x2="475.7" y2="471.65" stroke="#4ea8e2" stroke-width="2.0" />
<line x1="469.3" y1="491.11" x2="475.7" y2="491.11" stroke="#4ea8e2" stroke-width="2.0" />
<line x1="561.7" y1="422.99" x2="561.7" y2="455.43" stroke="#4ea8e2" stroke-width="2.0" />
<line x1="558.5" y1="422.99" x2="564.9" y2="422.99" stroke="#4ea8e2" stroke-width="2.0" />
<line x1="558.5" y1="455.43" x2="564.9" y2="455.43" stroke="#4ea8e2" stroke-width="2.0" />
<line x1="115.4" y1="517.06" x2="115.4" y2="549.49" stroke="#a865bc" stroke-width="2.0" />
<line x1="112.2" y1="517.06" x2="118.6" y2="517.06" stroke="#a865bc" stroke-width="2.0" />
<line x1="112.2" y1="549.49" x2="118.6" y2="549.49" stroke="#a865bc" stroke-width="2.0" />
<line x1="204.8" y1="546.25" x2="204.8" y2="559.22" stroke="#a865bc" stroke-width="2.0" />
<line x1="201.6" y1="546.25" x2="208.0" y2="546.25" stroke="#a865bc" stroke-width="2.0" />
<line x1="201.6" y1="559.22" x2="208.0" y2="559.22" stroke="#a865bc" stroke-width="2.0" />
<line x1="294.2" y1="552.73" x2="294.2" y2="565.71" stroke="#a865bc" stroke-width="2.0" />
<line x1="291.0" y1="552.73" x2="297.4" y2="552.73" stroke="#a865bc" stroke-width="2.0" />
<line x1="291.0" y1="565.71" x2="297.4" y2="565.71" stroke="#a865bc" stroke-width="2.0" />
<line x1="383.4" y1="536.52" x2="383.4" y2="549.49" stroke="#a865bc" stroke-width="2.0" />
<line x1="380.2" y1="536.52" x2="386.6" y2="536.52" stroke="#a865bc" stroke-width="2.0" />
<line x1="380.2" y1="549.49" x2="386.6" y2="549.49" stroke="#a865bc" stroke-width="2.0" />
<line x1="472.5" y1="461.92" x2="472.5" y2="487.86" stroke="#a865bc" stroke-width="2.0" />
<line x1="469.3" y1="461.92" x2="475.7" y2="461.92" stroke="#a865bc" stroke-width="2.0" />
<line x1="469.3" y1="487.86" x2="475.7" y2="487.86" stroke="#a865bc" stroke-width="2.0" />
<line x1="561.7" y1="445.7" x2="561.7" y2="465.16" stroke="#a865bc" stroke-width="2.0" />
<line x1="558.5" y1="445.7" x2="564.9" y2="445.7" stroke="#a865bc" stroke-width="2.0" />
<line x1="558.5" y1="465.16" x2="564.9" y2="465.16" stroke="#a865bc" stroke-width="2.0" />
<line x1="590.4" y1="424.5" x2="590.4" y2="492.8" stroke="#000" stroke-width="2.4" />
<text x="604.4" y="475.59999999999997" font-size="35" font-weight="bold" text-anchor="middle" fill="#000">*</text>
<line x1="628.67" y1="448.5" x2="625.1" y2="465.7" stroke="#000" stroke-width="1.9" />
<line x1="634.57" y1="448.5" x2="630.63" y2="465.7" stroke="#000" stroke-width="1.9" />
<line x1="623.5" y1="453.83" x2="635.8" y2="453.83" stroke="#000" stroke-width="2.1" />
<line x1="623.5" y1="459.68" x2="635.8" y2="459.68" stroke="#000" stroke-width="2.1" />
<text transform="translate(588.4,541) scale(1,1.06)" font-size="20.1" text-anchor="start" fill="#000" stroke="#000" stroke-width="0.22" >AVP (nM)</text>
<rect x="587.4" y="549.2" width="24.6" height="119.6" fill="#fafafa"/>
<line x1="590" y1="561.1" x2="610.3" y2="561.1" stroke="#ee5a6a" stroke-width="2.8" />
<circle cx="600.1" cy="561.1" r="8.2" fill="#ee5a6a" stroke="#111" stroke-width="1.8"/>
<text transform="translate(619,568.0) scale(1,1.06)" font-size="19.8" text-anchor="start" fill="#000" stroke="#000" stroke-width="0.22" >0</text>
<line x1="590" y1="584.95" x2="610.3" y2="584.95" stroke="#939a2b" stroke-width="2.8" />
<circle cx="600.1" cy="584.95" r="8.2" fill="#939a2b" stroke="#111" stroke-width="1.8"/>
<text transform="translate(619,591.85) scale(1,1.06)" font-size="19.8" text-anchor="start" fill="#000" stroke="#000" stroke-width="0.22" >0.1</text>
<line x1="590" y1="608.8" x2="610.3" y2="608.8" stroke="#4cba78" stroke-width="2.8" />
<circle cx="600.1" cy="608.8" r="8.2" fill="#4cba78" stroke="#111" stroke-width="1.8"/>
<text transform="translate(619,615.7) scale(1,1.06)" font-size="19.8" text-anchor="start" fill="#000" stroke="#000" stroke-width="0.22" >1</text>
<line x1="590" y1="632.65" x2="610.3" y2="632.65" stroke="#4ea8e2" stroke-width="2.8" />
<circle cx="600.1" cy="632.65" r="8.2" fill="#4ea8e2" stroke="#111" stroke-width="1.8"/>
<text transform="translate(619,639.55) scale(1,1.06)" font-size="19.8" text-anchor="start" fill="#000" stroke="#000" stroke-width="0.22" >10</text>
<line x1="590" y1="656.5" x2="610.3" y2="656.5" stroke="#a865bc" stroke-width="2.8" />
<circle cx="600.1" cy="656.5" r="8.2" fill="#a865bc" stroke="#111" stroke-width="1.8"/>
<text transform="translate(619,663.4) scale(1,1.06)" font-size="19.8" text-anchor="start" fill="#000" stroke="#000" stroke-width="0.22" >100</text>
<text transform="translate(1.8,811.5) scale(1,1.06)" font-size="25" text-anchor="start" fill="#000" stroke="#000" stroke-width="0.22" >d</text>
<line x1="87" y1="819.2" x2="87" y2="1067" stroke="#000" stroke-width="2.4" />
<line x1="85.8" y1="1065.8" x2="568.6" y2="1065.8" stroke="#000" stroke-width="2.4" />
<line x1="76" y1="1057.8" x2="87" y2="1057.8" stroke="#000" stroke-width="2.2" />
<text transform="translate(72.2,1064.4) scale(1,1.06)" font-size="19" text-anchor="end" fill="#000" stroke="#000" stroke-width="0.22" >0.0</text>
<line x1="76" y1="1024.49" x2="87" y2="1024.49" stroke="#000" stroke-width="2.2" />
<text transform="translate(72.2,1031.09) scale(1,1.06)" font-size="19" text-anchor="end" fill="#000" stroke="#000" stroke-width="0.22" >0.1</text>
<line x1="76" y1="991.18" x2="87" y2="991.18" stroke="#000" stroke-width="2.2" />
<text transform="translate(72.2,997.78) scale(1,1.06)" font-size="19" text-anchor="end" fill="#000" stroke="#000" stroke-width="0.22" >0.2</text>
<line x1="76" y1="957.87" x2="87" y2="957.87" stroke="#000" stroke-width="2.2" />
<text transform="translate(72.2,964.47) scale(1,1.06)" font-size="19" text-anchor="end" fill="#000" stroke="#000" stroke-width="0.22" >0.3</text>
<line x1="76" y1="924.56" x2="87" y2="924.56" stroke="#000" stroke-width="2.2" />
<text transform="translate(72.2,931.16) scale(1,1.06)" font-size="19" text-anchor="end" fill="#000" stroke="#000" stroke-width="0.22" >0.4</text>
<line x1="76" y1="891.25" x2="87" y2="891.25" stroke="#000" stroke-width="2.2" />
<text transform="translate(72.2,897.85) scale(1,1.06)" font-size="19" text-anchor="end" fill="#000" stroke="#000" stroke-width="0.22" >0.5</text>
<line x1="76" y1="857.94" x2="87" y2="857.94" stroke="#000" stroke-width="2.2" />
<text transform="translate(72.2,864.54) scale(1,1.06)" font-size="19" text-anchor="end" fill="#000" stroke="#000" stroke-width="0.22" >0.6</text>
<line x1="76" y1="824.63" x2="87" y2="824.63" stroke="#000" stroke-width="2.2" />
<text transform="translate(72.2,831.23) scale(1,1.06)" font-size="19" text-anchor="end" fill="#000" stroke="#000" stroke-width="0.22" >0.7</text>
<line x1="200.6" y1="1065.8" x2="200.6" y2="1077.2" stroke="#000" stroke-width="2.2" />
<text transform="translate(201.3,1098.2) scale(1,1.06)" font-size="19" text-anchor="middle" fill="#000" stroke="#000" stroke-width="0.22" >2</text>
<line x1="306.2" y1="1065.8" x2="306.2" y2="1077.2" stroke="#000" stroke-width="2.2" />
<text transform="translate(306.9,1098.2) scale(1,1.06)" font-size="19" text-anchor="middle" fill="#000" stroke="#000" stroke-width="0.22" >4</text>
<line x1="411.8" y1="1065.8" x2="411.8" y2="1077.2" stroke="#000" stroke-width="2.2" />
<text transform="translate(412.5,1098.2) scale(1,1.06)" font-size="19" text-anchor="middle" fill="#000" stroke="#000" stroke-width="0.22" >6</text>
<line x1="517.4" y1="1065.8" x2="517.4" y2="1077.2" stroke="#000" stroke-width="2.2" />
<text transform="translate(518.1,1098.2) scale(1,1.06)" font-size="19" text-anchor="middle" fill="#000" stroke="#000" stroke-width="0.22" >8</text>
<text transform="translate(188,1129.7) scale(1,1.06)" font-size="24.2" text-anchor="start" fill="#000" stroke="#000" stroke-width="0.22" >Venus/Nanoluciferase (x10<tspan font-size="14.5" dy="-8.3">-4</tspan><tspan dy="8.3">)</tspan></text>
<text transform="translate(27.2,932.2) rotate(-90) scale(1,1.06)" font-size="22" text-anchor="middle" stroke="#000" stroke-width="0.22">BRET<tspan font-size="13.5" dy="7.8">eff</tspan></text>
<circle cx="148.7" cy="964.7" r="5.7" fill="#000" stroke="#000" stroke-width="1.0"/>
<circle cx="151.6" cy="971.8" r="5.7" fill="#000" stroke="#000" stroke-width="1.0"/>
<circle cx="112" cy="984.6" r="5.7" fill="#000" stroke="#000" stroke-width="1.0"/>
<circle cx="119.5" cy="986.9" r="5.7" fill="#000" stroke="#000" stroke-width="1.0"/>
<circle cx="102" cy="992.8" r="5.7" fill="#000" stroke="#000" stroke-width="1.0"/>
<circle cx="98.5" cy="998.6" r="5.7" fill="#000" stroke="#000" stroke-width="1.0"/>
<circle cx="95" cy="1005.6" r="5.7" fill="#000" stroke="#000" stroke-width="1.0"/>
<circle cx="95" cy="1011.5" r="5.7" fill="#000" stroke="#000" stroke-width="1.0"/>
<circle cx="106" cy="989" r="5.7" fill="#000" stroke="#000" stroke-width="1.0"/>
<circle cx="303.9" cy="951.2" r="5.7" fill="#000" stroke="#000" stroke-width="1.0"/>
<circle cx="304.6" cy="954.8" r="5.7" fill="#000" stroke="#000" stroke-width="1.0"/>
<circle cx="311.2" cy="951.9" r="5.7" fill="#000" stroke="#000" stroke-width="1.0"/>
<circle cx="316.3" cy="957" r="5.7" fill="#000" stroke="#000" stroke-width="1.0"/>
<circle cx="325" cy="953.4" r="5.7" fill="#000" stroke="#000" stroke-width="1.0"/>
<circle cx="329.4" cy="951.9" r="5.7" fill="#000" stroke="#000" stroke-width="1.0"/>
<circle cx="332.3" cy="948.2" r="5.7" fill="#000" stroke="#000" stroke-width="1.0"/>
<circle cx="345.5" cy="948.2" r="5.7" fill="#000" stroke="#000" stroke-width="1.0"/>
<circle cx="374.4" cy="954.1" r="5.7" fill="#000" stroke="#000" stroke-width="1.0"/>
<circle cx="142.2" cy="896.4" r="5.3" fill="#fff" stroke="#000" stroke-width="2.5"/>
<circle cx="131.0" cy="909.5" r="5.3" fill="#fff" stroke="#000" stroke-width="2.5"/>
<circle cx="133.5" cy="912.8" r="5.3" fill="#fff" stroke="#000" stroke-width="2.5"/>
<circle cx="146.9" cy="910.8" r="5.3" fill="#fff" stroke="#000" stroke-width="2.5"/>
<circle cx="111.3" cy="949.6" r="5.3" fill="#fff" stroke="#000" stroke-width="2.5"/>
<circle cx="109.5" cy="955.4" r="5.3" fill="#fff" stroke="#000" stroke-width="2.5"/>
<circle cx="111.3" cy="958.9" r="5.3" fill="#fff" stroke="#000" stroke-width="2.5"/>
<circle cx="102.5" cy="977" r="5.3" fill="#fff" stroke="#000" stroke-width="2.5"/>
<circle cx="102.5" cy="982.3" r="5.3" fill="#fff" stroke="#000" stroke-width="2.5"/>
<circle cx="186.2" cy="867.8" r="5.3" fill="#fff" stroke="#000" stroke-width="2.5"/>
<circle cx="198.5" cy="866" r="5.3" fill="#fff" stroke="#000" stroke-width="2.5"/>
<circle cx="200.8" cy="867" r="5.3" fill="#fff" stroke="#000" stroke-width="2.5"/>
<circle cx="224.1" cy="847.4" r="5.3" fill="#fff" stroke="#000" stroke-width="2.5"/>
<circle cx="221.8" cy="852.3" r="5.3" fill="#fff" stroke="#000" stroke-width="2.5"/>
<circle cx="222.4" cy="867.8" r="5.3" fill="#fff" stroke="#000" stroke-width="2.5"/>
<circle cx="439.4" cy="832.9" r="5.3" fill="#fff" stroke="#000" stroke-width="2.5"/>
<circle cx="445.5" cy="832.1" r="5.3" fill="#fff" stroke="#000" stroke-width="2.5"/>
<circle cx="463.9" cy="837.3" r="5.3" fill="#fff" stroke="#000" stroke-width="2.5"/>
<circle cx="469.9" cy="837.3" r="5.3" fill="#fff" stroke="#000" stroke-width="2.5"/>
<circle cx="502.0" cy="833.4" r="5.3" fill="#fff" stroke="#000" stroke-width="2.5"/>
<circle cx="512.5" cy="834.7" r="5.3" fill="#fff" stroke="#000" stroke-width="2.5"/>
<circle cx="553.2" cy="819" r="5.3" fill="#fff" stroke="#000" stroke-width="2.5"/>
<circle cx="568.9" cy="820.3" r="5.3" fill="#fff" stroke="#000" stroke-width="2.5"/>
<polyline points="101.86,982.65 103.41,976.82 104.96,971.38 106.51,966.29 108.05,961.52 109.60,957.03 111.15,952.82 112.69,948.84 114.24,945.08 115.79,941.53 117.33,938.16 118.88,934.97 120.43,931.93 121.98,929.05 123.52,926.30 125.07,923.68 126.62,921.17 128.16,918.78 129.71,916.50 131.26,914.31 132.80,912.21 134.35,910.20 135.90,908.27 137.45,906.41 138.99,904.63 140.54,902.91 142.09,901.25 143.63,899.66 145.18,898.12 146.73,896.64 148.28,895.21 149.82,893.83 151.37,892.49 152.92,891.20 154.46,889.95 156.01,888.74 157.56,887.56 159.10,886.42 160.65,885.32 162.20,884.25 163.75,883.21 165.29,882.20 166.84,881.22 168.39,880.27 169.93,879.35 171.48,878.45 173.03,877.57 174.57,876.72 176.12,875.89 177.67,875.08 179.22,874.29 180.76,873.52 182.31,872.77 183.86,872.04 185.40,871.33 186.95,870.64 188.50,869.96 190.05,869.30 191.59,868.65 193.14,868.02 194.69,867.40 196.23,866.79 197.78,866.20 199.33,865.62 200.87,865.06 202.42,864.51 203.97,863.97 205.52,863.44 207.06,862.92 208.61,862.41 210.16,861.91 211.70,861.42 213.25,860.95 214.80,860.48 216.34,860.02 217.89,859.57 219.44,859.13 220.99,858.69 222.53,858.27 224.08,857.85 225.63,857.44 227.17,857.04 228.72,856.64 230.27,856.26 231.82,855.88 233.36,855.50 234.91,855.14 236.46,854.77 238.00,854.42 239.55,854.07 241.10,853.73 242.64,853.39 244.19,853.06 245.74,852.73 247.29,852.41 248.83,852.10 250.38,851.79 251.93,851.48 253.47,851.18 255.02,850.89 256.57,850.60 258.12,850.31 259.66,850.03 261.21,849.75 262.76,849.48 264.30,849.21 265.85,848.94 267.40,848.68 268.94,848.42 270.49,848.17 272.04,847.92 273.59,847.67 275.13,847.43 276.68,847.19 278.23,846.95 279.77,846.72 281.32,846.49 282.87,846.26 284.41,846.04 285.96,845.82 287.51,845.60 289.06,845.39 290.60,845.17 292.15,844.97 293.70,844.76 295.24,844.56 296.79,844.36 298.34,844.16 299.89,843.96 301.43,843.77 302.98,843.58 304.53,843.39 306.07,843.20 307.62,843.02 309.17,842.84 310.71,842.66 312.26,842.48 313.81,842.31 315.36,842.13 316.90,841.96 318.45,841.80 320.00,841.63 321.54,841.46 323.09,841.30 324.64,841.14 326.18,840.98 327.73,840.82 329.28,840.67 330.83,840.52 332.37,840.36 333.92,840.21 335.47,840.07 337.01,839.92 338.56,839.77 340.11,839.63 341.66,839.49 343.20,839.35 344.75,839.21 346.30,839.07 347.84,838.93 349.39,838.80 350.94,838.67 352.48,838.53 354.03,838.40 355.58,838.28 357.13,838.15 358.67,838.02 360.22,837.90 361.77,837.77 363.31,837.65 364.86,837.53 366.41,837.41 367.95,837.29 369.50,837.17 371.05,837.06 372.60,836.94 374.14,836.83 375.69,836.71 377.24,836.60 378.78,836.49 380.33,836.38 381.88,836.27 383.43,836.16 384.97,836.06 386.52,835.95 388.07,835.85 389.61,835.74 391.16,835.64 392.71,835.54 394.25,835.44 395.80,835.34 397.35,835.24 398.90,835.14 400.44,835.04 401.99,834.95 403.54,834.85 405.08,834.76 406.63,834.66 408.18,834.57 409.72,834.48 411.27,834.39 412.82,834.29 414.37,834.20 415.91,834.12 417.46,834.03 419.01,833.94 420.55,833.85 422.10,833.77 423.65,833.68 425.20,833.60 426.74,833.51 428.29,833.43 429.84,833.35 431.38,833.27 432.93,833.18 434.48,833.10 436.02,833.02 437.57,832.95 439.12,832.87 440.67,832.79 442.21,832.71 443.76,832.64 445.31,832.56 446.85,832.48 448.40,832.41 449.95,832.33 451.50,832.26 453.04,832.19 454.59,832.12 456.14,832.04 457.68,831.97 459.23,831.90 460.78,831.83 462.32,831.76 463.87,831.69 465.42,831.62 466.97,831.56 468.51,831.49 470.06,831.42 471.61,831.35 473.15,831.29 474.70,831.22 476.25,831.16 477.79,831.09 479.34,831.03 480.89,830.97 482.44,830.90 483.98,830.84 485.53,830.78 487.08,830.71 488.62,830.65 490.17,830.59 491.72,830.53 493.27,830.47 494.81,830.41 496.36,830.35 497.91,830.29 499.45,830.24 501.00,830.18 502.55,830.12 504.09,830.06 505.64,830.01 507.19,829.95 508.74,829.89 510.28,829.84 511.83,829.78 513.38,829.73 514.92,829.67 516.47,829.62 518.02,829.56 519.56,829.51 521.11,829.46 522.66,829.41 524.21,829.35 525.75,829.30 527.30,829.25 528.85,829.20 530.39,829.15 531.94,829.10 533.49,829.05 535.04,829.00 536.58,828.95 538.13,828.90 539.68,828.85 541.22,828.80 542.77,828.75 544.32,828.70 545.86,828.65 547.41,828.61 548.96,828.56 550.51,828.51 552.05,828.47 553.60,828.42 555.15,828.37 556.69,828.33 558.24,828.28 559.79,828.24 561.33,828.19 562.88,828.15 564.43,828.10 565.98,828.06" fill="none" stroke="#000" stroke-width="2.3" stroke-dasharray="8.9,8.6" stroke-dashoffset="5.30"/>
<polyline points="100.28,1000.10 101.65,997.82 103.02,995.72 104.39,993.78 105.76,991.99 107.13,990.33 108.50,988.78 109.87,987.34 111.24,985.99 112.61,984.72 113.98,983.54 115.35,982.42 116.72,981.37 118.09,980.38 119.46,979.44 120.83,978.55 122.20,977.70 123.57,976.90 124.94,976.14 126.31,975.42 127.68,974.73 129.05,974.07 130.42,973.44 131.79,972.83 133.16,972.26 134.53,971.70 135.90,971.17 137.27,970.67 138.64,970.18 140.01,969.71 141.38,969.26 142.75,968.82 144.13,968.40 145.50,968.00 146.87,967.61 148.24,967.23 149.61,966.87 150.98,966.52 152.35,966.18 153.72,965.85 155.09,965.53 156.46,965.22 157.83,964.92 159.20,964.63 160.57,964.35 161.94,964.08 163.31,963.81 164.68,963.56 166.05,963.31 167.42,963.06 168.79,962.83 170.16,962.60 171.53,962.37 172.90,962.16 174.27,961.94 175.64,961.74 177.01,961.54 178.38,961.34 179.75,961.15 181.12,960.96 182.49,960.78 183.86,960.60 185.23,960.43 186.60,960.26 187.97,960.09 189.34,959.93 190.71,959.77 192.08,959.62 193.45,959.46 194.82,959.32 196.19,959.17 197.56,959.03 198.93,958.89 200.30,958.76 201.67,958.62 203.04,958.49 204.41,958.36 205.78,958.24 207.15,958.12 208.52,958.00 209.89,957.88 211.26,957.76 212.63,957.65 214.00,957.54 215.37,957.43 216.74,957.32 218.11,957.22 219.48,957.11 220.85,957.01 222.22,956.91 223.59,956.81 224.96,956.72 226.33,956.62 227.70,956.53 229.08,956.44 230.45,956.35 231.82,956.26 233.19,956.17 234.56,956.09 235.93,956.01 237.30,955.92 238.67,955.84 240.04,955.76 241.41,955.68 242.78,955.61 244.15,955.53 245.52,955.45 246.89,955.38 248.26,955.31 249.63,955.24 251.00,955.17 252.37,955.10 253.74,955.03 255.11,954.96 256.48,954.89 257.85,954.83 259.22,954.76 260.59,954.70 261.96,954.64 263.33,954.58 264.70,954.52 266.07,954.46 267.44,954.40 268.81,954.34 270.18,954.28 271.55,954.22 272.92,954.17 274.29,954.11 275.66,954.06 277.03,954.00 278.40,953.95 279.77,953.90 281.14,953.85 282.51,953.79 283.88,953.74 285.25,953.69 286.62,953.64 287.99,953.60 289.36,953.55 290.73,953.50 292.10,953.45 293.47,953.41 294.84,953.36 296.21,953.32 297.58,953.27 298.95,953.23 300.32,953.18 301.69,953.14 303.06,953.10 304.43,953.06 305.80,953.02 307.17,952.97 308.54,952.93 309.91,952.89 311.28,952.85 312.65,952.81 314.02,952.78 315.40,952.74 316.77,952.70 318.14,952.66 319.51,952.62 320.88,952.59 322.25,952.55 323.62,952.52 324.99,952.48 326.36,952.45 327.73,952.41 329.10,952.38 330.47,952.34 331.84,952.31 333.21,952.27 334.58,952.24 335.95,952.21 337.32,952.18 338.69,952.14 340.06,952.11 341.43,952.08 342.80,952.05 344.17,952.02 345.54,951.99 346.91,951.96 348.28,951.93 349.65,951.90 351.02,951.87 352.39,951.84 353.76,951.81 355.13,951.78 356.50,951.76 357.87,951.73 359.24,951.70 360.61,951.67 361.98,951.65 363.35,951.62 364.72,951.59 366.09,951.57 367.46,951.54 368.83,951.51 370.20,951.49 371.57,951.46 372.94,951.44 374.31,951.41" fill="none" stroke="#000" stroke-width="2.2" />
<line x1="590.4" y1="827.7" x2="590.4" y2="952.8" stroke="#000" stroke-width="2.4" />
<text x="605.5" y="908.3" font-size="35" font-weight="bold" text-anchor="middle" fill="#000">*</text>
<circle cx="425.5" cy="988.3" r="8.1" fill="#fff" stroke="#000" stroke-width="2.6"/>
<circle cx="425.4" cy="1024" r="9.4" fill="#000" stroke="#000" stroke-width="0.5"/>
<text transform="translate(443.7,995.9) scale(1,1.06)" font-size="20" text-anchor="start" fill="#000" stroke="#000" stroke-width="0.22" >V1b-Venus + <tspan font-family="Liberation Serif">μ</tspan>-Nluc</text>
<text transform="translate(443.7,1031.6) scale(1,1.06)" font-size="20" text-anchor="start" fill="#000" stroke="#000" stroke-width="0.22" >P2X2a-Venus + <tspan font-family="Liberation Serif">μ</tspan>-Nluc</text>
<text transform="translate(1.9,1193.5) scale(1,1.06)" font-size="25.5" text-anchor="start" fill="#000" stroke="#000" stroke-width="0.22" >e</text>
<line x1="87" y1="1236" x2="87" y2="1418.5" stroke="#000" stroke-width="2.2" />
<line x1="82.3" y1="1389.7" x2="441.2" y2="1389.7" stroke="#000" stroke-width="2.2" />
<line x1="82.3" y1="1253.1" x2="87" y2="1253.1" stroke="#000" stroke-width="1.8" />
<text transform="translate(77.5,1259) scale(1,1.06)" font-size="19.3" text-anchor="end" fill="#4d4d4d" stroke="#4d4d4d" stroke-width="0.22" >0.35</text>
<text transform="translate(77.5,1395.8) scale(1,1.06)" font-size="19.3" text-anchor="end" fill="#4d4d4d" stroke="#4d4d4d" stroke-width="0.22" >0.30</text>
<text transform="translate(31,1324.5) rotate(-90) scale(1,1.06)" font-size="22" text-anchor="middle" stroke="#000" stroke-width="0.22">NanoBRET (530/480 nm)</text>
<text transform="translate(126.6,1395.2) rotate(-90) scale(1,1.06)" font-size="22.3" text-anchor="end" stroke="#000" stroke-width="0.22">Buffer</text>
<text transform="translate(177.7,1395.2) rotate(-90) scale(1,1.06)" font-size="22.3" text-anchor="end" stroke="#000" stroke-width="0.22">AVP</text>
<text transform="translate(229.8,1395.2) rotate(-90) scale(1,1.06)" font-size="21.4" text-anchor="end" stroke="#000" stroke-width="0.22">DAMGO</text>
<text transform="translate(311.3,1395.2) rotate(-90) scale(1,1.06)" font-size="22.3" text-anchor="end" stroke="#000" stroke-width="0.22">Buffer</text>
<text transform="translate(363.9,1395.2) rotate(-90) scale(1,1.06)" font-size="22.3" text-anchor="end" stroke="#000" stroke-width="0.22">AVP</text>
<text transform="translate(410.6,1395.2) rotate(-90) scale(1,1.06)" font-size="21.4" text-anchor="end" stroke="#000" stroke-width="0.22">DAMGO</text>
<circle cx="123.9" cy="1302.5" r="9.8" fill="#ec5a69" stroke="#000" stroke-width="2.0"/>
<line x1="123.9" y1="1294.6" x2="123.9" y2="1310.7" stroke="#ec5a69" stroke-width="2.3" />
<line x1="113.9" y1="1294.6" x2="133.9" y2="1294.6" stroke="#ec5a69" stroke-width="2.3" />
<line x1="113.9" y1="1310.7" x2="133.9" y2="1310.7" stroke="#ec5a69" stroke-width="2.3" />
<circle cx="123.9" cy="1284" r="5.8" fill="none" stroke="#ec5a69" stroke-width="2.0"/>
<circle cx="123.9" cy="1289" r="5.8" fill="none" stroke="#ec5a69" stroke-width="2.0"/>
<circle cx="123.9" cy="1315.5" r="5.8" fill="none" stroke="#ec5a69" stroke-width="2.0"/>
<circle cx="123.9" cy="1328" r="5.8" fill="none" stroke="#ec5a69" stroke-width="2.0"/>
<circle cx="173.6" cy="1302.5" r="9.8" fill="#ec5a69" stroke="#000" stroke-width="2.0"/>
<line x1="173.6" y1="1294.6" x2="173.6" y2="1310.7" stroke="#ec5a69" stroke-width="2.3" />
<line x1="163.6" y1="1294.6" x2="183.6" y2="1294.6" stroke="#ec5a69" stroke-width="2.3" />
<line x1="163.6" y1="1310.7" x2="183.6" y2="1310.7" stroke="#ec5a69" stroke-width="2.3" />
<circle cx="173.6" cy="1268.2" r="5.8" fill="none" stroke="#ec5a69" stroke-width="2.0"/>
<circle cx="173.6" cy="1313" r="5.8" fill="none" stroke="#ec5a69" stroke-width="2.0"/>
<circle cx="173.6" cy="1317" r="5.8" fill="none" stroke="#ec5a69" stroke-width="2.0"/>
<circle cx="223.8" cy="1316" r="9.8" fill="#ec5a69" stroke="#000" stroke-width="2.0"/>
<line x1="223.8" y1="1307.9" x2="223.8" y2="1321.9" stroke="#ec5a69" stroke-width="2.3" />
<line x1="213.8" y1="1307.9" x2="233.8" y2="1307.9" stroke="#ec5a69" stroke-width="2.3" />
<line x1="213.8" y1="1321.9" x2="233.8" y2="1321.9" stroke="#ec5a69" stroke-width="2.3" />
<circle cx="223.8" cy="1299.7" r="5.8" fill="none" stroke="#ec5a69" stroke-width="2.0"/>
<circle cx="223.8" cy="1305.5" r="5.8" fill="none" stroke="#ec5a69" stroke-width="2.0"/>
<circle cx="223.8" cy="1335.2" r="5.8" fill="none" stroke="#ec5a69" stroke-width="2.0"/>
<circle cx="311.3" cy="1313.3" r="9.8" fill="#4bbdb4" stroke="#000" stroke-width="2.0"/>
<line x1="311.3" y1="1304.8" x2="311.3" y2="1321.9" stroke="#4bbdb4" stroke-width="2.3" />
<line x1="301.3" y1="1304.8" x2="321.3" y2="1304.8" stroke="#4bbdb4" stroke-width="2.3" />
<line x1="301.3" y1="1321.9" x2="321.3" y2="1321.9" stroke="#4bbdb4" stroke-width="2.3" />
<circle cx="311.3" cy="1288.5" r="5.8" fill="none" stroke="#4bbdb4" stroke-width="2.0"/>
<circle cx="311.3" cy="1303.2" r="5.8" fill="none" stroke="#4bbdb4" stroke-width="2.0"/>
<circle cx="311.3" cy="1326.6" r="5.8" fill="none" stroke="#4bbdb4" stroke-width="2.0"/>
<circle cx="311.3" cy="1330" r="5.8" fill="none" stroke="#4bbdb4" stroke-width="2.0"/>
<circle cx="359.5" cy="1310.9" r="9.8" fill="#4bbdb4" stroke="#000" stroke-width="2.0"/>
<line x1="359.5" y1="1304.5" x2="359.5" y2="1318" stroke="#4bbdb4" stroke-width="2.3" />
<line x1="349.5" y1="1304.5" x2="369.5" y2="1304.5" stroke="#4bbdb4" stroke-width="2.3" />
<line x1="349.5" y1="1318" x2="369.5" y2="1318" stroke="#4bbdb4" stroke-width="2.3" />
<circle cx="359.5" cy="1292" r="5.8" fill="none" stroke="#4bbdb4" stroke-width="2.0"/>
<circle cx="359.5" cy="1319.6" r="5.8" fill="none" stroke="#4bbdb4" stroke-width="2.0"/>
<circle cx="404.3" cy="1329.4" r="9.8" fill="#4bbdb4" stroke="#000" stroke-width="2.0"/>
<line x1="404.3" y1="1321.9" x2="404.3" y2="1337.8" stroke="#4bbdb4" stroke-width="2.3" />
<line x1="394.3" y1="1321.9" x2="414.3" y2="1321.9" stroke="#4bbdb4" stroke-width="2.3" />
<line x1="394.3" y1="1337.8" x2="414.3" y2="1337.8" stroke="#4bbdb4" stroke-width="2.3" />
<circle cx="404.3" cy="1294.6" r="5.8" fill="none" stroke="#4bbdb4" stroke-width="2.0"/>
<circle cx="404.3" cy="1343" r="5.8" fill="none" stroke="#4bbdb4" stroke-width="2.0"/>
<circle cx="404.3" cy="1345.3" r="5.8" fill="none" stroke="#4bbdb4" stroke-width="2.0"/>
<line x1="117" y1="1228.5" x2="142" y2="1228.5" stroke="#ec5a69" stroke-width="3" />
<circle cx="129.4" cy="1228.5" r="9.9" fill="#ec5a69" stroke="#000" stroke-width="1.7"/>
<text transform="translate(154.2,1234.2) scale(1,1.06)" font-size="19.8" text-anchor="start" fill="#000" stroke="#000" stroke-width="0.22" ><tspan font-family="Liberation Serif">μ</tspan>-S+V1b-L</text>
<line x1="300" y1="1225.4" x2="323.4" y2="1225.4" stroke="#4bbdb4" stroke-width="3" />
<circle cx="311.4" cy="1225.6" r="9.9" fill="#4bbdb4" stroke="#000" stroke-width="1.7"/>
<text transform="translate(336,1230.2) scale(1,1.06)" font-size="19.8" text-anchor="start" fill="#000" stroke="#000" stroke-width="0.22" ><tspan font-family="Liberation Serif">μ</tspan>-L+V1b-S</text>
</svg></body></html>
